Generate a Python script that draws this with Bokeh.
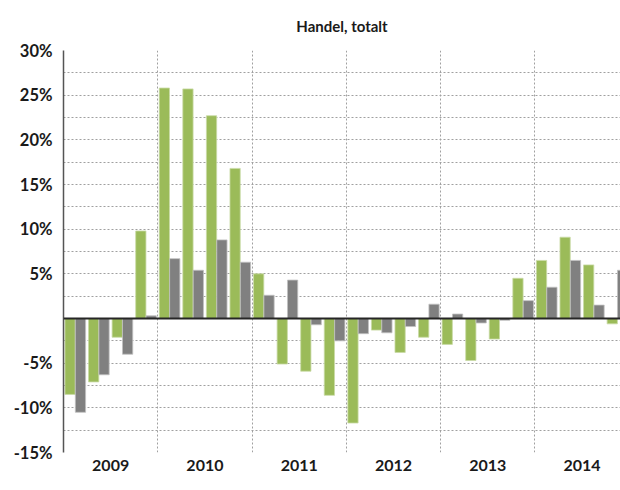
from bokeh.plotting import figure
from bokeh.models import FixedTicker, Range1d, Span, ColumnDataSource, Title
from bokeh.embed import file_html
from bokeh.resources import INLINE

# ---- data (quarterly % change) ----
years = ["2009", "2010", "2011", "2012", "2013", "2014"]
green_vals = [-8.5, -7.1, -2.1, 9.8,
              25.8, 25.7, 22.7, 16.8,
              5.0, -5.1, -5.9, -8.6,
              -11.7, -1.3, -3.8, -2.1,
              -2.9, -4.7, -2.3, 4.5,
              6.5, 9.1, 6.0, -0.6]
grey_vals = [-10.5, -6.3, -4.0, 0.3,
             6.7, 5.4, 8.8, 6.3,
             2.6, 4.3, -0.7, -2.5,
             -1.7, -1.6, -0.9, 1.6,
             0.5, -0.5, -0.2, 2.0,
             3.5, 6.5, 1.5, 5.4]
y_ticks = [-15, -10, -5, 0, 5, 10, 15, 20, 25, 30]
title_text = "Handel, totalt"

GREEN = "#9BBB59"
GREY = "#808080"
FONT = "Lato"

n = len(green_vals)
quarter_idx = list(range(n))
src = ColumnDataSource(dict(
    xg=[i + 0.28 for i in quarter_idx],
    xr=[i + 0.72 for i in quarter_idx],
    g=green_vals,
    r=grey_vals,
))

X_END = 23.63
p = figure(width=620, height=490, output_backend="svg", toolbar_location=None,
           x_range=Range1d(0, X_END), y_range=Range1d(-15, 30),
           min_border_left=63, min_border_right=0, min_border_top=50,
           min_border_bottom=38)

p.vbar(x="xg", top="g", bottom=0, width=0.435, source=src,
       fill_color=GREEN, line_color="#c9dba6", line_width=0.8)
p.vbar(x="xr", top="r", bottom=0, width=0.435, source=src,
       fill_color=GREY, line_color="#c0c0c0", line_width=0.8)

p.add_layout(Span(location=0, dimension="width", line_color="#262626",
                  line_width=2, level="overlay"))

# real title; an empty spacer title between it and the frame lifts it up
p.title.text = title_text
p.title.align = "center"
p.title.text_font = FONT
p.title.text_font_size = "15px"
p.title.text_font_style = "bold"
p.title.text_color = "#1a1a1a"
p.add_layout(Title(text=" ", text_font_size="8px", standoff=0), "above")

# y axis
yax = p.yaxis[0]
yax.ticker = FixedTicker(ticks=y_ticks,
                         minor_ticks=[t + 2.5 for t in y_ticks[:-1]])
yax.major_label_overrides = {t: ("" if t == 0 else f"{t}%") for t in y_ticks}
yax.major_label_text_font = FONT
yax.major_label_text_font_style = "bold"
yax.major_label_text_font_size = "16.5px"
yax.major_label_text_color = "#1a1a1a"
yax.major_tick_line_color = None
yax.minor_tick_line_color = None
yax.major_tick_out = 0
yax.major_tick_in = 0
yax.minor_tick_out = 0
yax.minor_tick_in = 0
yax.major_label_standoff = 11
yax.axis_line_color = "#555555"
yax.axis_line_width = 1.5

# x axis with year labels
xax = p.xaxis[0]
year_centers = [4 * k + 2 for k in range(len(years))]
xax.ticker = FixedTicker(ticks=year_centers)
xax.major_label_overrides = {c: y for c, y in zip(year_centers, years)}
xax.major_label_text_font = FONT
xax.major_label_text_font_style = "bold"
xax.major_label_text_font_size = "16px"
xax.major_label_text_color = "#1a1a1a"
xax.major_tick_line_color = None
xax.minor_tick_line_color = None
xax.major_tick_out = 0
xax.major_tick_in = 0
xax.minor_tick_out = 0
xax.minor_tick_in = 0
xax.axis_line_color = None
xax.major_label_standoff = 7

# grids
p.xgrid.ticker = FixedTicker(ticks=[4 * k for k in range(1, len(years))])
p.xgrid.grid_line_color = "#a0a0a0"
p.xgrid.grid_line_dash = "2 2"
p.xgrid.grid_line_width = 1
p.ygrid.grid_line_color = "#a0a0a0"
p.ygrid.grid_line_dash = "2 2"
p.ygrid.minor_grid_line_color = "#a0a0a0"
p.ygrid.minor_grid_line_dash = "2 2"

p.outline_line_color = None
p.background_fill_color = "white"
p.border_fill_color = "white"

open("out.html", "w").write(file_html(p, INLINE))
